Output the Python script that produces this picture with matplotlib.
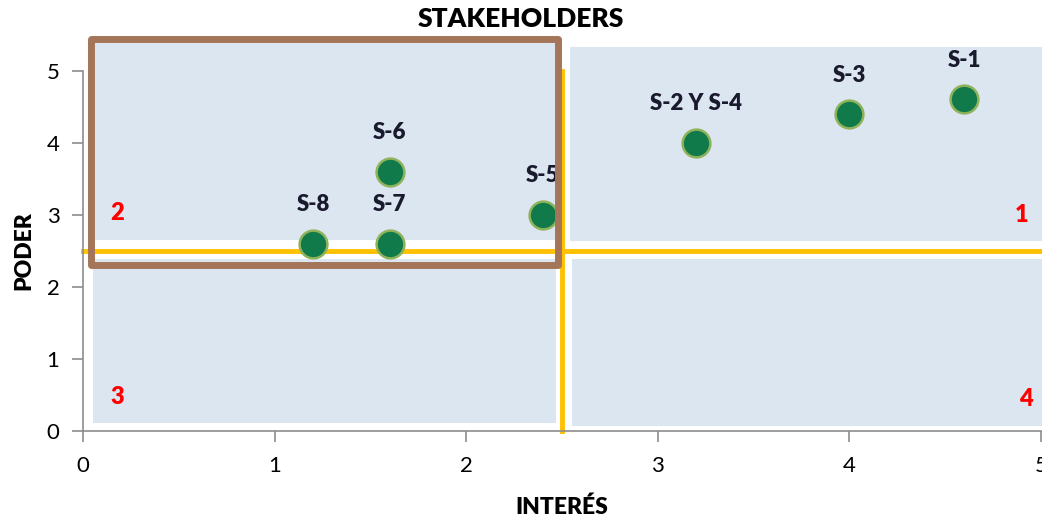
import matplotlib.pyplot as plt
from matplotlib.patches import Rectangle

plt.rcParams['font.family'] = ['Lato', 'DejaVu Sans']

# stakeholder positions (interés, poder)
labels = ['S-1', 'S-3', 'S-2 Y S-4', 'S-5', 'S-6', 'S-7', 'S-8']
interes = [4.6, 4.0, 3.2, 2.4, 1.6, 1.6, 1.2]
poder = [4.6, 4.4, 4.0, 3.0, 3.6, 2.6, 2.6]

# quadrant numbers and where they sit
quad_names = ['1', '2', '3', '4']
quad_x = [4.9, 0.18, 0.18, 4.92]
quad_y = [3.0, 3.03, 0.47, 0.44]

# quadrant backgrounds: (x0, y0, x1, y1)
quad_boxes = [
    (2.54, 2.63, 5.05, 5.33),
    (0.06, 2.65, 2.47, 5.38),
    (0.05, 0.11, 2.47, 2.38),
    (2.55, 0.07, 5.05, 2.38),
]

fig = plt.figure(figsize=(10.42, 5.19), dpi=100)
ax = fig.add_axes([0.0797, 0.170, 0.9193, 0.6938])
ax.set_xlim(0, 5)
ax.set_ylim(0, 5)

for x0, y0, x1, y1 in quad_boxes:
    ax.add_patch(Rectangle((x0, y0), x1 - x0, y1 - y0, facecolor='#dce6f1',
                           edgecolor='none', zorder=0, clip_on=False))

# dividing lines
ax.plot([0, 5], [2.5, 2.5], color='#ffc000', lw=3.5, zorder=1, clip_on=False)
ax.plot([2.5, 2.5], [0, 5], color='#ffc000', lw=3.5, zorder=1, clip_on=False)

ax.scatter(interes, poder, s=400, color='#107a4b', edgecolor='#8fb35a',
           linewidth=1.8, zorder=3, clip_on=False)
for lab, x, y in zip(labels, interes, poder):
    ax.annotate(lab, (x, y), xytext=(0, 28), textcoords='offset points',
                ha='center', va='center', fontsize=16, fontweight='heavy',
                color='#1a1a2e', zorder=4)

for name, x, y in zip(quad_names, quad_x, quad_y):
    ax.text(x, y, name, ha='center', va='center', fontsize=17,
            fontweight='heavy', color='#ff0000', zorder=4)

# highlighted group
ax.add_patch(Rectangle((0.04, 2.30), 2.44, 3.14, facecolor='none',
                       edgecolor='#a5755a', lw=5, zorder=5, clip_on=False,
                       joinstyle='round'))

for side in ['top', 'right']:
    ax.spines[side].set_visible(False)
for side in ['left', 'bottom']:
    ax.spines[side].set_color('#8c8c8c')
    ax.spines[side].set_linewidth(1.2)
ax.tick_params(colors='#8c8c8c', length=8, width=1.2, labelsize=16,
               labelcolor='black')
ax.tick_params(axis='x', pad=10)
ax.tick_params(axis='y', pad=9)
ax.set_xticks(range(6))
ax.set_yticks(range(6))

ax.set_xlabel('INTERÉS', fontsize=16.5, fontweight='heavy', labelpad=15)
ax.set_ylabel('PODER', fontsize=16.5, fontweight='heavy', labelpad=9)
fig.text(0.5, 0.963, 'STAKEHOLDERS', ha='center', va='center',
         fontsize=19, fontweight='heavy')

fig.savefig('out.png', dpi=100)
